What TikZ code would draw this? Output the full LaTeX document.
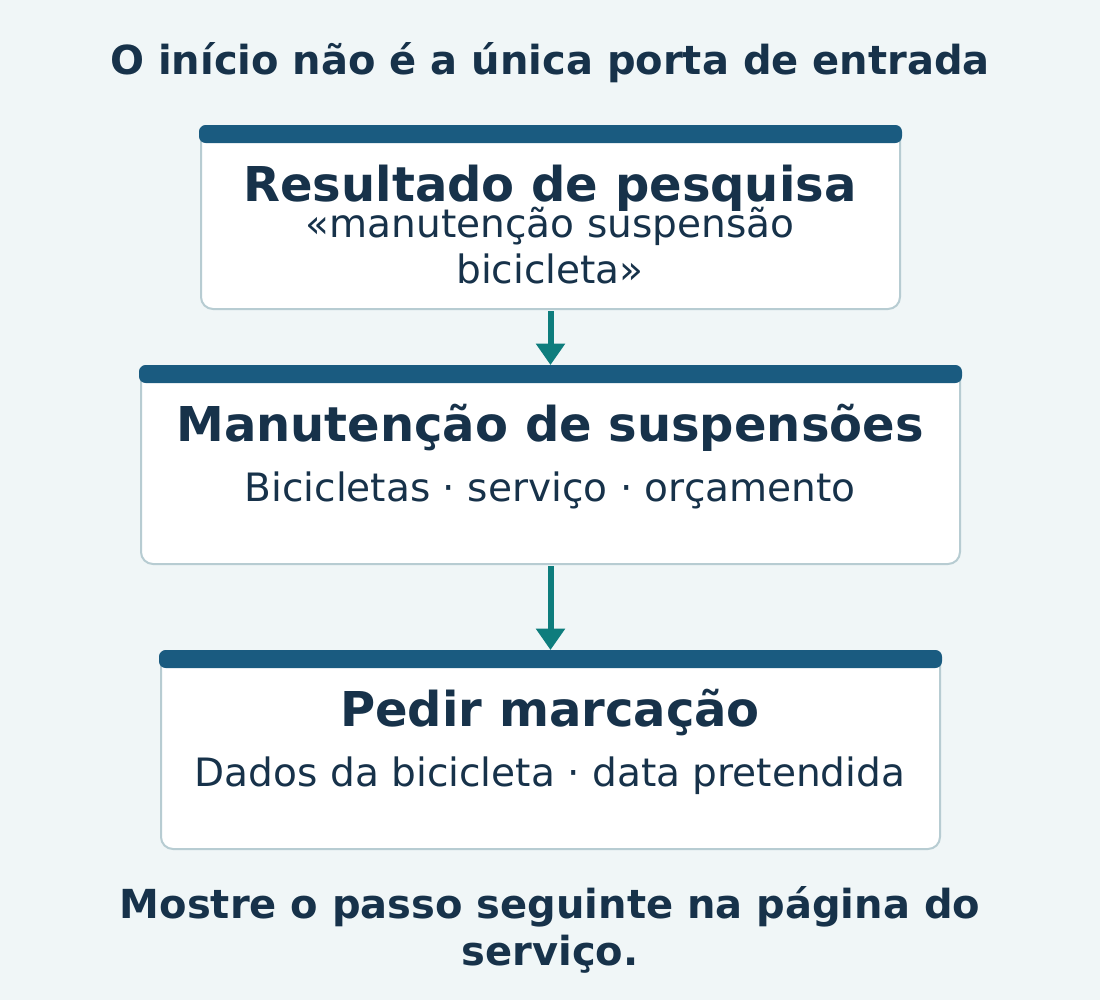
\documentclass[tikz,border=0pt]{standalone}
\usepackage{fontspec}
\setmainfont{DejaVu Sans}
\usetikzlibrary{arrows.meta,positioning}
\definecolor{bgc}{HTML}{F0F6F7}
\definecolor{barc}{HTML}{1A5B80}
\definecolor{inkc}{HTML}{17324A}
\definecolor{linec}{HTML}{B7CCD2}
\definecolor{flowc}{HTML}{0E7D7D}
\begin{document}
\begin{tikzpicture}[
			x=0.75pt, y=-0.75pt,
			card/.style  = {draw=linec, fill=white, line width=1.5pt, rounded corners=9pt, inner sep=0pt},
			bar/.style   = {fill=barc, rounded corners=5pt},
			headline/.style = {text=inkc, anchor=base, inner sep=0pt, font=\bfseries\fontsize{36}{42}\selectfont},
			subline/.style  = {text=inkc, anchor=base, inner sep=0pt, align=center, font=\fontsize{29.3}{34.5}\selectfont},
			pagetext/.style = {text=inkc, anchor=base, inner sep=0pt, align=center, font=\bfseries\fontsize{30}{35.25}\selectfont},
			flow/.style  = {-{Triangle[width=21pt,length=16pt]}, draw=flowc, line width=4.5pt, shorten <=0.75pt},
			>=latex]
			
			% background and page size
			\fill[bgc] (0,0) rectangle (1100,1000);
			\useasboundingbox (0,0) rectangle (1100,1000);
			
			\node[pagetext] (title) at (550,74) {O início não é a única porta de entrada};
			
			% the three cards
			\node[card, minimum width=524.25pt, minimum height=137.25pt] (search) at (550.5,217.5) {};
			\node[card, minimum width=614.25pt, minimum height=148.5pt] (service) at (550.5,465) {};
			\node[card, minimum width=584.25pt, minimum height=148.5pt] (booking) at (550.5,750) {};
			
			% connectors, under the header bars
			\draw[flow] (search.south) -- (service.north);
			\draw[flow] (service.south) -- (booking.north);
			
			\foreach \card in {search,service,booking}
			\fill[bar] ([xshift=-0.75pt]\card.north west) rectangle ([xshift=0.75pt,yshift=-13.5pt]\card.north east);
			
			% texts in the cards (base = last line)
			\node[headline] (searchT) at (550,201) {Resultado de pesquisa};
			\node[subline] (searchS) at (550,283) {«manutenção suspensão\\bicicleta»};
			
			\node[headline] (serviceT) at (550,441) {Manutenção de suspensões};
			\node[subline] (serviceS) at (550,501) {Bicicletas · serviço · orçamento};
			
			\node[headline] (bookingT) at (550,726) {Pedir marcação};
			\node[subline] (bookingS) at (550,786) {Dados da bicicleta · data pretendida};
			
			\node[pagetext] (note) at (550,965) {Mostre o passo seguinte na página do\\serviço.};
		\end{tikzpicture}
\end{document}
